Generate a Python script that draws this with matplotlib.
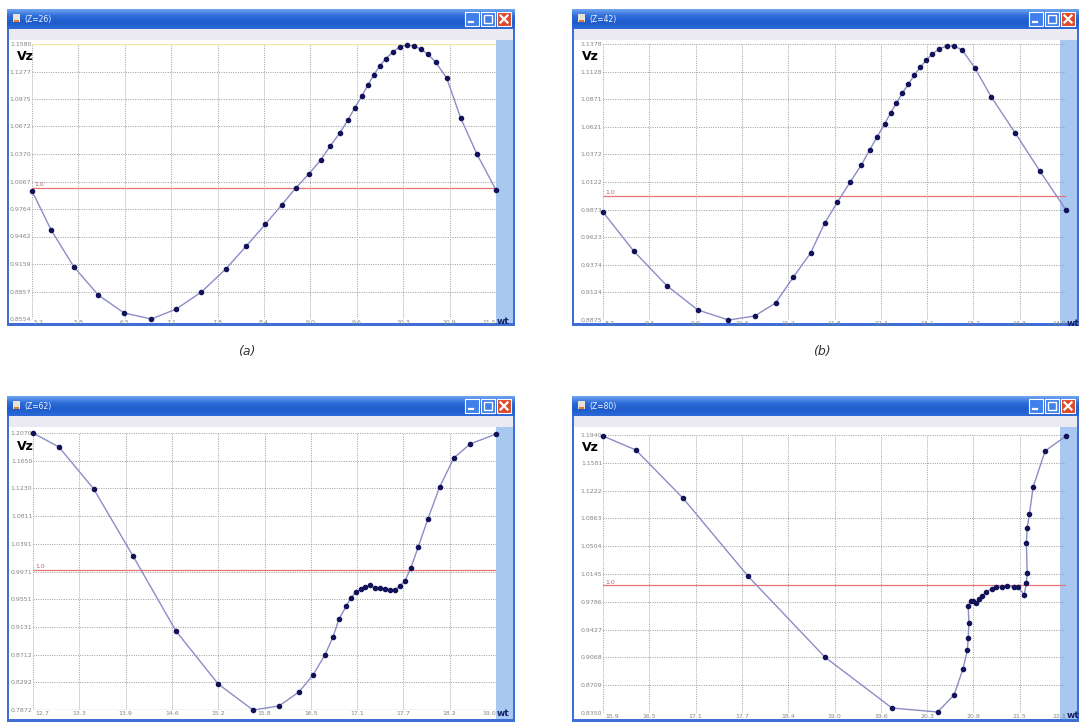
import numpy as np
import matplotlib
matplotlib.use('Agg')
import matplotlib.pyplot as plt
from matplotlib.patches import Rectangle
from matplotlib.transforms import ScaledTranslation

W, H = 1080, 722

# ---- data ----
titles = ['(Z=26)', '(Z=42)', '(Z=62)', '(Z=80)']
captions = ['(a)', '(b)']

# (a) Z=26
a_wt = [5.2, 5.46, 5.77, 6.10, 6.45, 6.82, 7.16, 7.50, 7.83, 8.11, 8.37, 8.59, 8.78, 8.96,
        9.12, 9.25, 9.38, 9.49, 9.58, 9.68, 9.76, 9.84, 9.92, 10.00, 10.10, 10.19, 10.29,
        10.38, 10.48, 10.57, 10.68, 10.83, 11.02, 11.24, 11.50]
a_vz = [0.9963, 0.9533, 0.9126, 0.8818, 0.8620, 0.8554, 0.8664, 0.8851, 0.9104, 0.9357,
        0.9599, 0.9808, 0.9995, 1.0150, 1.0304, 1.0458, 1.0601, 1.0744, 1.0876, 1.1008,
        1.1129, 1.1239, 1.1338, 1.1415, 1.1492, 1.1547, 1.1569, 1.1558, 1.1525, 1.1470,
        1.1382, 1.1206, 1.0766, 1.0370, 0.9974]
a_xlim = [5.2, 11.5]
a_xlabels = ['5.2', '5.8', '6.5', '7.1', '7.8', '8.4', '9.0', '9.6', '10.3', '10.9', '11.5']
a_ylabels = ['0.8554', '0.8857', '0.9159', '0.9462', '0.9764', '1.0067', '1.0370',
             '1.0672', '1.0975', '1.1277', '1.1580']

# (b) Z=42
b_wt = [8.70, 9.11, 9.56, 9.97, 10.38, 10.73, 11.01, 11.25, 11.48, 11.67, 11.84, 12.01,
        12.16, 12.27, 12.37, 12.47, 12.55, 12.63, 12.71, 12.79, 12.87, 12.95, 13.03, 13.11,
        13.20, 13.30, 13.40, 13.51, 13.68, 13.90, 14.22, 14.55, 14.90]
b_vz = [0.9854, 0.9501, 0.9183, 0.8966, 0.8875, 0.8911, 0.9029, 0.9265, 0.9483, 0.9755,
        0.9945, 1.0126, 1.0281, 1.0417, 1.0535, 1.0652, 1.0752, 1.0843, 1.0934, 1.1015,
        1.1097, 1.1169, 1.1233, 1.1287, 1.1333, 1.1360, 1.1360, 1.1324, 1.1160, 1.0897,
        1.0571, 1.0226, 0.9873]
b_xlim = [8.7, 14.9]
b_xlabels = ['8.7', '9.3', '9.9', '10.6', '11.2', '11.8', '12.4', '13.1', '13.7', '14.3', '14.9']
b_ylabels = ['0.8875', '0.9124', '0.9374', '0.9623', '0.9873', '1.0122', '1.0372',
             '1.0621', '1.0871', '1.1128', '1.1378']

# (c) Z=62
c_wt = [12.70, 13.05, 13.52, 14.05, 14.63, 15.20, 15.67, 16.02, 16.29, 16.48, 16.64, 16.75,
        16.83, 16.93, 16.99, 17.06, 17.13, 17.18, 17.25, 17.32, 17.38, 17.45, 17.52, 17.59,
        17.65, 17.72, 17.80, 17.90, 18.03, 18.19, 18.38, 18.60, 18.95]
c_vz = [1.2070, 1.1858, 1.1221, 1.0206, 0.9069, 0.8266, 0.7872, 0.7933, 0.8145, 0.8402,
        0.8706, 0.8979, 0.9251, 0.9448, 0.9570, 0.9660, 0.9706, 0.9736, 0.9766, 0.9721,
        0.9721, 0.9706, 0.9691, 0.9691, 0.9751, 0.9827, 1.0024, 1.0342, 1.0767, 1.1252,
        1.1691, 1.1903, 1.2055]
c_xlim = [12.7, 18.95]
c_xlabels = ['12.7', '13.3', '13.9', '14.6', '15.2', '15.8', '16.5', '17.1', '17.7', '18.2', '19.0']
c_ylabels = ['0.7872', '0.8292', '0.8712', '0.9131', '0.9551', '0.9971', '1.0391',
             '1.0811', '1.1230', '1.1650', '1.2070']

# (d) Z=80
d_wt = [15.90, 16.34, 16.97, 17.84, 18.87, 19.77, 20.38, 20.60, 20.72, 20.78, 20.79, 20.80,
        20.79, 20.83, 20.86, 20.90, 20.94, 20.98, 21.03, 21.11, 21.16, 21.24, 21.31, 21.41,
        21.46, 21.54, 21.57, 21.58, 21.57, 21.58, 21.61, 21.66, 21.82, 22.10]
d_vz = [1.1927, 1.1746, 1.1126, 1.0119, 0.9073, 0.8414, 0.8363, 0.8582, 0.8918, 0.9164,
        0.9319, 0.9512, 0.9732, 0.9796, 0.9796, 0.9770, 0.9822, 0.9861, 0.9912, 0.9951,
        0.9977, 0.9977, 0.9990, 0.9977, 0.9977, 0.9874, 1.0029, 1.0158, 1.0545, 1.0739,
        1.0920, 1.1268, 1.1733, 1.1927]
d_xlim = [15.9, 22.1]
d_xlabels = ['15.9', '16.5', '17.1', '17.7', '18.4', '19.0', '19.6', '20.3', '20.9', '21.5', '22.1']
d_ylabels = ['0.8350', '0.8709', '0.9068', '0.9427', '0.9786', '1.0145', '1.0504',
             '1.0863', '1.1222', '1.1581', '1.1940']

# window frames (pixels: left, top, right, bottom) and plot areas inside them
windows = [(7, 9, 515, 326), (572, 9, 1079, 326), (7, 396, 515, 722), (572, 396, 1079, 722)]
plot_boxes = [(32, 44, 496, 319), (603, 44, 1066, 320), (33, 433, 496, 710), (603, 435, 1066, 713)]

fig = plt.figure(figsize=(W / 100, H / 100), dpi=100)
fig.patch.set_facecolor('white')
bg = fig.add_axes([0, 0, 1, 1], zorder=0)
bg.set_xlim(0, W)
bg.set_ylim(H, 0)
bg.axis('off')

BORDER = '#3d6fd6'
bar_stops = np.array([[0x6a, 0xa2, 0xee], [0x2e, 0x6c, 0xd8], [0x1d, 0x5a, 0xcb], [0x2c, 0x69, 0xd6]]) / 255.0


def draw_window(x0, y0, x1, y1, title):
    # title bar with a vertical gradient
    th = 20
    for i in range(th):
        t = i / (th - 1) * (len(bar_stops) - 1)
        k = min(int(t), len(bar_stops) - 2)
        c = bar_stops[k] + (bar_stops[k + 1] - bar_stops[k]) * (t - k)
        bg.add_patch(Rectangle((x0, y0 + i), x1 - x0, 1.05, color=c, lw=0))
    # toolbar strip
    bg.add_patch(Rectangle((x0, y0 + th), x1 - x0, 11, color='#ebeaf2', lw=0))
    # borders
    bg.add_patch(Rectangle((x0, y0 + th), 2, y1 - y0 - th, color=BORDER, lw=0))
    bg.add_patch(Rectangle((x0, y1 - 3), x1 - x0, 3, color=BORDER, lw=0))
    bg.add_patch(Rectangle((x1 - 2, y0 + th), 2, y1 - y0 - th, color=BORDER, lw=0))
    # light blue bar on the right side
    bg.add_patch(Rectangle((x1 - 19, y0 + 31), 17, y1 - y0 - 34, color='#a8c8f0', lw=0))
    # icon
    bg.add_patch(Rectangle((x0 + 6, y0 + 5), 7, 8, color='#e9e2d6', lw=0))
    bg.add_patch(Rectangle((x0 + 7, y0 + 11), 5, 2, color='#e07a30', lw=0))
    bg.text(x0 + 17, y0 + 10.5, title, color='#f0f4ff', fontsize=5.5, va='center', ha='left')
    # buttons: minimise, maximise, close
    by = y0 + 3
    bs = 14
    cx = x1 - 18
    bg.add_patch(Rectangle((cx, by), bs, bs, facecolor='#dc4a2a', edgecolor='white', lw=0.8))
    bg.plot([cx + 3.5, cx + bs - 3.5], [by + 3.5, by + bs - 3.5], color='white', lw=1.6)
    bg.plot([cx + 3.5, cx + bs - 3.5], [by + bs - 3.5, by + 3.5], color='white', lw=1.6)
    mx = cx - 16
    bg.add_patch(Rectangle((mx, by), bs, bs, facecolor='#3f80ea', edgecolor='white', lw=0.8))
    bg.add_patch(Rectangle((mx + 3, by + 3), bs - 6, bs - 6, facecolor='none', edgecolor='white', lw=1.0))
    nx = mx - 16
    bg.add_patch(Rectangle((nx, by), bs, bs, facecolor='#3f80ea', edgecolor='white', lw=0.8))
    bg.plot([nx + 3.5, nx + 8], [by + bs - 4, by + bs - 4], color='white', lw=1.6)


def fig_box(l, t, r, b):
    return [l / W, 1 - b / H, (r - l) / W, (b - t) / H]


panels = [
    (a_wt, a_vz, a_xlim, a_xlabels, a_ylabels),
    (b_wt, b_vz, b_xlim, b_xlabels, b_ylabels),
    (c_wt, c_vz, c_xlim, c_xlabels, c_ylabels),
    (d_wt, d_vz, d_xlim, d_xlabels, d_ylabels),
]

for i, (wt, vz, xlim, xlab, ylab) in enumerate(panels):
    x0, y0, x1, y1 = windows[i]
    draw_window(x0, y0, x1, y1, titles[i])

    l, t, r, b = plot_boxes[i]
    ax = fig.add_axes(fig_box(l, t, r, b), zorder=2)
    ax.patch.set_alpha(0)
    ymin, ymax = float(ylab[0]), float(ylab[-1])
    ax.set_xlim(xlim)
    ax.set_ylim(ymin, ymax)
    ax.set_xticks(np.linspace(xlim[0], xlim[1], len(xlab)))
    ax.set_xticklabels(xlab)
    ax.set_yticks(np.linspace(ymin, ymax, len(ylab)))
    ax.set_yticklabels(ylab)
    ax.tick_params(length=0, pad=0.5, labelsize=4.5, colors='#858585')
    xt = ax.get_xticklabels()
    xt[-1].set_ha('right')
    xt[0].set_ha('left')
    xt[0].set_transform(xt[0].get_transform() + ScaledTranslation(2 / 100, 0, fig.dpi_scale_trans))
    for s in ax.spines.values():
        s.set_visible(False)
    ax.grid(True, linestyle=(0, (1, 1.4)), color='#9c9c9c', linewidth=0.7)
    ax.set_axisbelow(True)

    # reference level 1.0
    ax.axhline(1.0, color='#e67474', lw=0.9, zorder=2)
    ax.annotate('1.0', xy=(0, 1.0), xycoords=('axes fraction', 'data'), xytext=(2, 0.5),
                textcoords='offset points', fontsize=4.5, color='#b06a6a', va='bottom')
    if i == 2:
        ax.axhline(ymin, color='#b8e4a8', lw=1.0, zorder=2)
    if i == 0:
        ax.axhline(ymax, color='#eeeaa8', lw=1.0, zorder=2)

    ax.plot(wt, vz, color='#8c8cc6', lw=1.0, zorder=3, clip_on=False)
    ax.plot(wt, vz, 'o', ms=3.0, color='#12125a', zorder=4, clip_on=False)

    # axis captions
    fig.text((x0 + 10) / W, 1 - (t + 13) / H, 'Vz', fontsize=9, fontweight='bold',
             color='black', va='center', ha='left')
    fig.text((r + 1) / W, 1 - (b + 3) / H, 'wt', fontsize=6.5, fontweight='bold',
             color='#14206a', va='center', ha='left')

# sub-figure captions
fig.text(247 / W, 1 - 352 / H, captions[0], fontsize=9, style='italic', color='#333333',
         ha='center', va='center')
fig.text(822 / W, 1 - 352 / H, captions[1], fontsize=9, style='italic', color='#333333',
         ha='center', va='center')

fig.savefig('out.png', dpi=100)
